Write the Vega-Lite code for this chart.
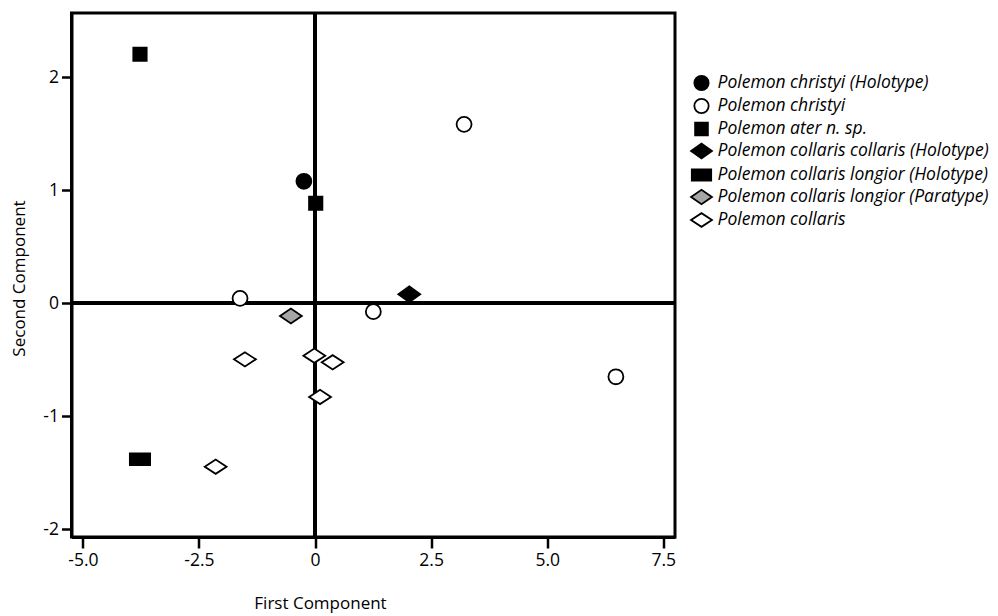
{
  "$schema": "https://vega.github.io/schema/vega-lite/v6.json",
  "width": 603.5,
  "height": 524,
  "autosize": {"type": "none"},
  "padding": {"left": 71.5, "top": 13, "right": 323, "bottom": 79},
  "background": "white",
  "config": {
    "font": "Open Sans",
    "view": {"stroke": "black", "strokeWidth": 3},
    "axis": {"grid": false, "domainColor": "black", "domainWidth": 3, "tickColor": "black", "tickWidth": 2.5}
  },
  "data": {
    "values": [
      {"group": "Polemon christyi (Holotype)", "pc1": -0.24, "pc2": 1.08},
      {"group": "Polemon christyi", "pc1": 3.21, "pc2": 1.584},
      {"group": "Polemon christyi", "pc1": -1.615, "pc2": 0.044},
      {"group": "Polemon christyi", "pc1": 1.256, "pc2": -0.074},
      {"group": "Polemon christyi", "pc1": 6.48, "pc2": -0.65},
      {"group": "Polemon ater n. sp.", "pc1": -3.77, "pc2": 2.204},
      {"group": "Polemon ater n. sp.", "pc1": 0.015, "pc2": 0.885},
      {"group": "Polemon collaris collaris (Holotype)", "pc1": 2.03, "pc2": 0.08},
      {"group": "Polemon collaris longior (Holotype)", "pc1": -3.77, "pc2": -1.38},
      {"group": "Polemon collaris longior (Paratype)", "pc1": -0.52, "pc2": -0.112},
      {"group": "Polemon collaris", "pc1": -1.51, "pc2": -0.496},
      {"group": "Polemon collaris", "pc1": -0.015, "pc2": -0.464},
      {"group": "Polemon collaris", "pc1": 0.38, "pc2": -0.522},
      {"group": "Polemon collaris", "pc1": 0.108, "pc2": -0.829},
      {"group": "Polemon collaris", "pc1": -2.14, "pc2": -1.446}
    ]
  },
  "layer": [
    {
      "mark": {"type": "rule", "color": "black", "strokeWidth": 3},
      "encoding": {"x": {"datum": 0, "type": "quantitative", "scale": {"domain": [-5.245, 7.753], "nice": false, "zero": false}}}
    },
    {
      "mark": {"type": "rule", "color": "black", "strokeWidth": 3},
      "encoding": {"y": {"datum": 0, "type": "quantitative", "scale": {"domain": [-2.068, 2.569], "nice": false, "zero": false}}}
    },
    {
      "mark": {"type": "point", "filled": true, "stroke": "black", "strokeWidth": 1.8, "opacity": 1, "size": 529},
      "encoding": {
        "x": {
          "field": "pc1", "type": "quantitative",
          "scale": {"domain": [-5.245, 7.753], "nice": false, "zero": false},
          "axis": {"title": "First Component", "values": [-5, -2.5, 0, 2.5, 5, 7.5], "tickSize": 11, "labelPadding": 3,
            "labelFont": "Open Sans", "labelFontSize": 17.5, "labelColor": "black",
            "titleFont": "Open Sans", "titleFontSize": 17, "titleFontWeight": "normal", "titleColor": "black",
            "labelExpr": "datum.value == 0 ? '0' : replace(format(datum.value, '.1f'), '\u2212', '-')",
            "titleX": 248.5, "titleY": 66, "titleAlign": "center", "titleBaseline": "middle"}
        },
        "y": {
          "field": "pc2", "type": "quantitative",
          "scale": {"domain": [-2.068, 2.569], "nice": false, "zero": false},
          "axis": {"title": "Second Component", "values": [-2, -1, 0, 1, 2], "tickSize": 10, "labelPadding": 3,
            "labelFont": "Open Sans", "labelFontSize": 17.5, "labelColor": "black",
            "titleFont": "Open Sans", "titleFontSize": 17, "titleFontWeight": "normal", "titleColor": "black",
            "labelExpr": "replace(format(datum.value, 'd'), '\u2212', '-')",
            "titleX": -52.5, "titleY": 265, "titleAngle": -90, "titleAlign": "center", "titleBaseline": "middle"}
        },
        "shape": {
          "field": "group", "type": "nominal",
          "scale": {
            "domain": ["Polemon christyi (Holotype)", "Polemon christyi", "Polemon ater n. sp.", "Polemon collaris collaris (Holotype)", "Polemon collaris longior (Holotype)", "Polemon collaris longior (Paratype)", "Polemon collaris"],
            "range": [
              "M-0.65,0A0.65,0.65,0,1,1,0.65,0A0.65,0.65,0,1,1,-0.65,0Z",
              "M-0.65,0A0.65,0.65,0,1,1,0.65,0A0.65,0.65,0,1,1,-0.65,0Z",
              "M-0.58,-0.58H0.58V0.58H-0.58Z",
              "M-0.95,0L0,-0.68L0.95,0L0,0.68Z",
              "M-0.88,-0.5H0.88V0.5H-0.88Z",
              "M-0.95,0L0,-0.65L0.95,0L0,0.65Z",
              "M-0.95,0L0,-0.62L0.95,0L0,0.62Z"
            ]
          },
          "legend": {"title": null, "orient": "none", "legendX": 618, "legendY": 58, "padding": 0, "rowPadding": 0, "labelOffset": 4, "labelFont": "Open Sans", "labelFontSize": 17.5, "labelFontStyle": "italic", "labelColor": "black", "labelLimit": 400, "symbolSize": 484, "symbolStrokeColor": "black", "symbolStrokeWidth": 1.8, "symbolOpacity": 1,
            "encode": {"symbols": {"update": {"stroke": {"value": "black"}, "strokeWidth": {"value": 1.8}, "opacity": {"value": 1}}}}}
        },
        "fill": {
          "field": "group", "type": "nominal",
          "scale": {
            "domain": ["Polemon christyi (Holotype)", "Polemon christyi", "Polemon ater n. sp.", "Polemon collaris collaris (Holotype)", "Polemon collaris longior (Holotype)", "Polemon collaris longior (Paratype)", "Polemon collaris"],
            "range": ["black", "white", "black", "black", "black", "#a6a6a6", "white"]
          },
          "legend": {"title": null, "orient": "none", "legendX": 618, "legendY": 58, "padding": 0, "rowPadding": 0, "labelOffset": 4, "labelFont": "Open Sans", "labelFontSize": 17.5, "labelFontStyle": "italic", "labelColor": "black", "labelLimit": 400, "symbolSize": 484, "symbolStrokeColor": "black", "symbolStrokeWidth": 1.8, "symbolOpacity": 1,
            "encode": {"symbols": {"update": {"stroke": {"value": "black"}, "strokeWidth": {"value": 1.8}, "opacity": {"value": 1}}}}}
        }
      }
    }
  ]
}
